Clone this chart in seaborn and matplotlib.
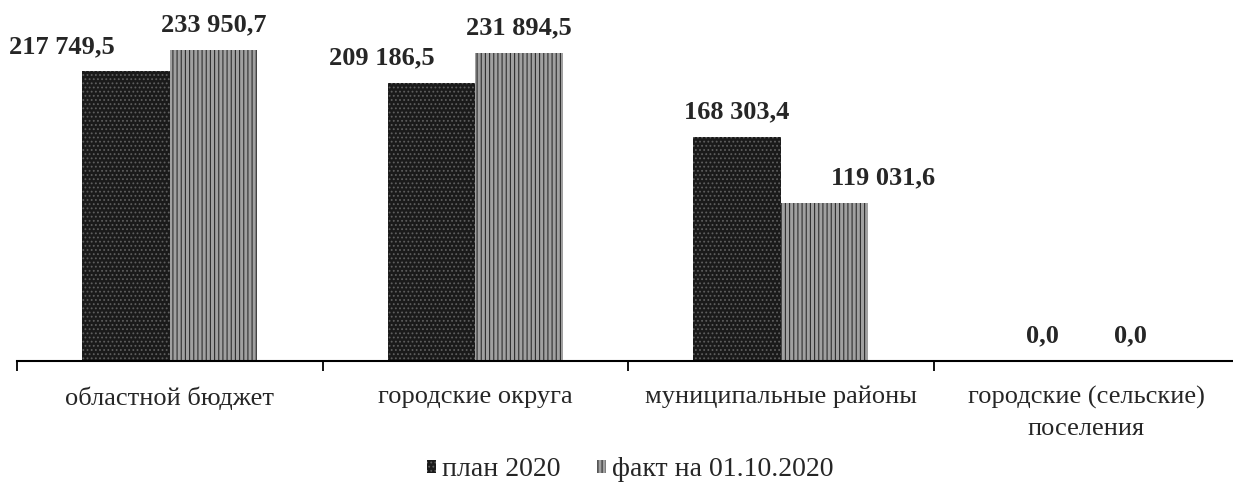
import numpy as np
import pandas as pd
import seaborn as sns
import matplotlib.pyplot as plt
from matplotlib.patches import Patch

sns.set_style("white")
plt.rcParams['font.family'] = ['Liberation Serif', 'DejaVu Serif']
plt.rcParams['hatch.linewidth'] = 0.8

categories = ["областной бюджет", "городские округа", "муниципальные районы",
              "городские (сельские)\nпоселения"]
series = ["план 2020", "факт на 01.10.2020"]
plan_2020 = [217749.5, 209186.5, 168303.4, 0.0]
fact_2020 = [233950.7, 231894.5, 119031.6, 0.0]

df = pd.DataFrame({
    "category": categories * 2,
    "series": [series[0]] * 4 + [series[1]] * 4,
    "value": plan_2020 + fact_2020,
})

colors = ["#1a1a1a", "#a0a0a0"]
hatches = ["....", "||||"]
hatch_colors = ["#5e5e5e", "#2e2e2e"]
# horizontal shift of value labels (points), as placed in the original
label_dx = [[-46, -36, 0, 0], [0, 0, 42, 0]]

fig = plt.figure(figsize=(12.33, 4.93), dpi=100)
ax = fig.add_axes([17 / 1233, 132 / 493, 1222 / 1233, 361 / 493])

sns.barplot(data=df, x="category", y="value", hue="series", palette=colors,
            width=0.573, saturation=1, legend=False, ax=ax)

for i, cont in enumerate(ax.containers):
    for j, bar in enumerate(cont):
        bar.set_hatch(hatches[i])
        bar.set_edgecolor(hatch_colors[i])
        bar.set_linewidth(0)
        v = bar.get_height()
        txt = f"{v:,.1f}".replace(",", " ").replace(".", ",")
        ax.annotate(txt, (bar.get_x() + bar.get_width() / 2, v),
                    xytext=(label_dx[i][j], 18), textcoords="offset points",
                    ha="center", va="center", fontsize=19, fontweight="bold")

ax.set_ylim(0, 271500)
ax.set_xlim(-0.5, 3.5)
ax.set_xlabel("")
ax.set_ylabel("")
ax.set_yticks([])
ax.set_xticks(range(len(categories)))
ax.set_xticklabels(categories, fontsize=19, linespacing=1.5)
ax.set_xticks([-0.5, 0.5, 1.5, 2.5], minor=True)
ax.tick_params(axis="x", which="major", length=0, pad=18)
ax.tick_params(axis="x", which="minor", length=7, width=1.3, color="black",
               direction="out", bottom=True)
for s in ["top", "left", "right"]:
    ax.spines[s].set_visible(False)
ax.spines["bottom"].set_color("black")
ax.spines["bottom"].set_linewidth(1.5)

handles = [Patch(facecolor=colors[k], hatch=hatches[k], edgecolor=hatch_colors[k],
                 linewidth=0, label=series[k]) for k in range(2)]
fig.legend(handles=handles, loc="center", bbox_to_anchor=(630 / 1233, 1 - 470 / 493),
           ncol=2, frameon=False, fontsize=20, handlelength=0.35, handleheight=0.35,
           handletextpad=0.2, columnspacing=1.3)

fig.savefig("out.png", dpi=100)
